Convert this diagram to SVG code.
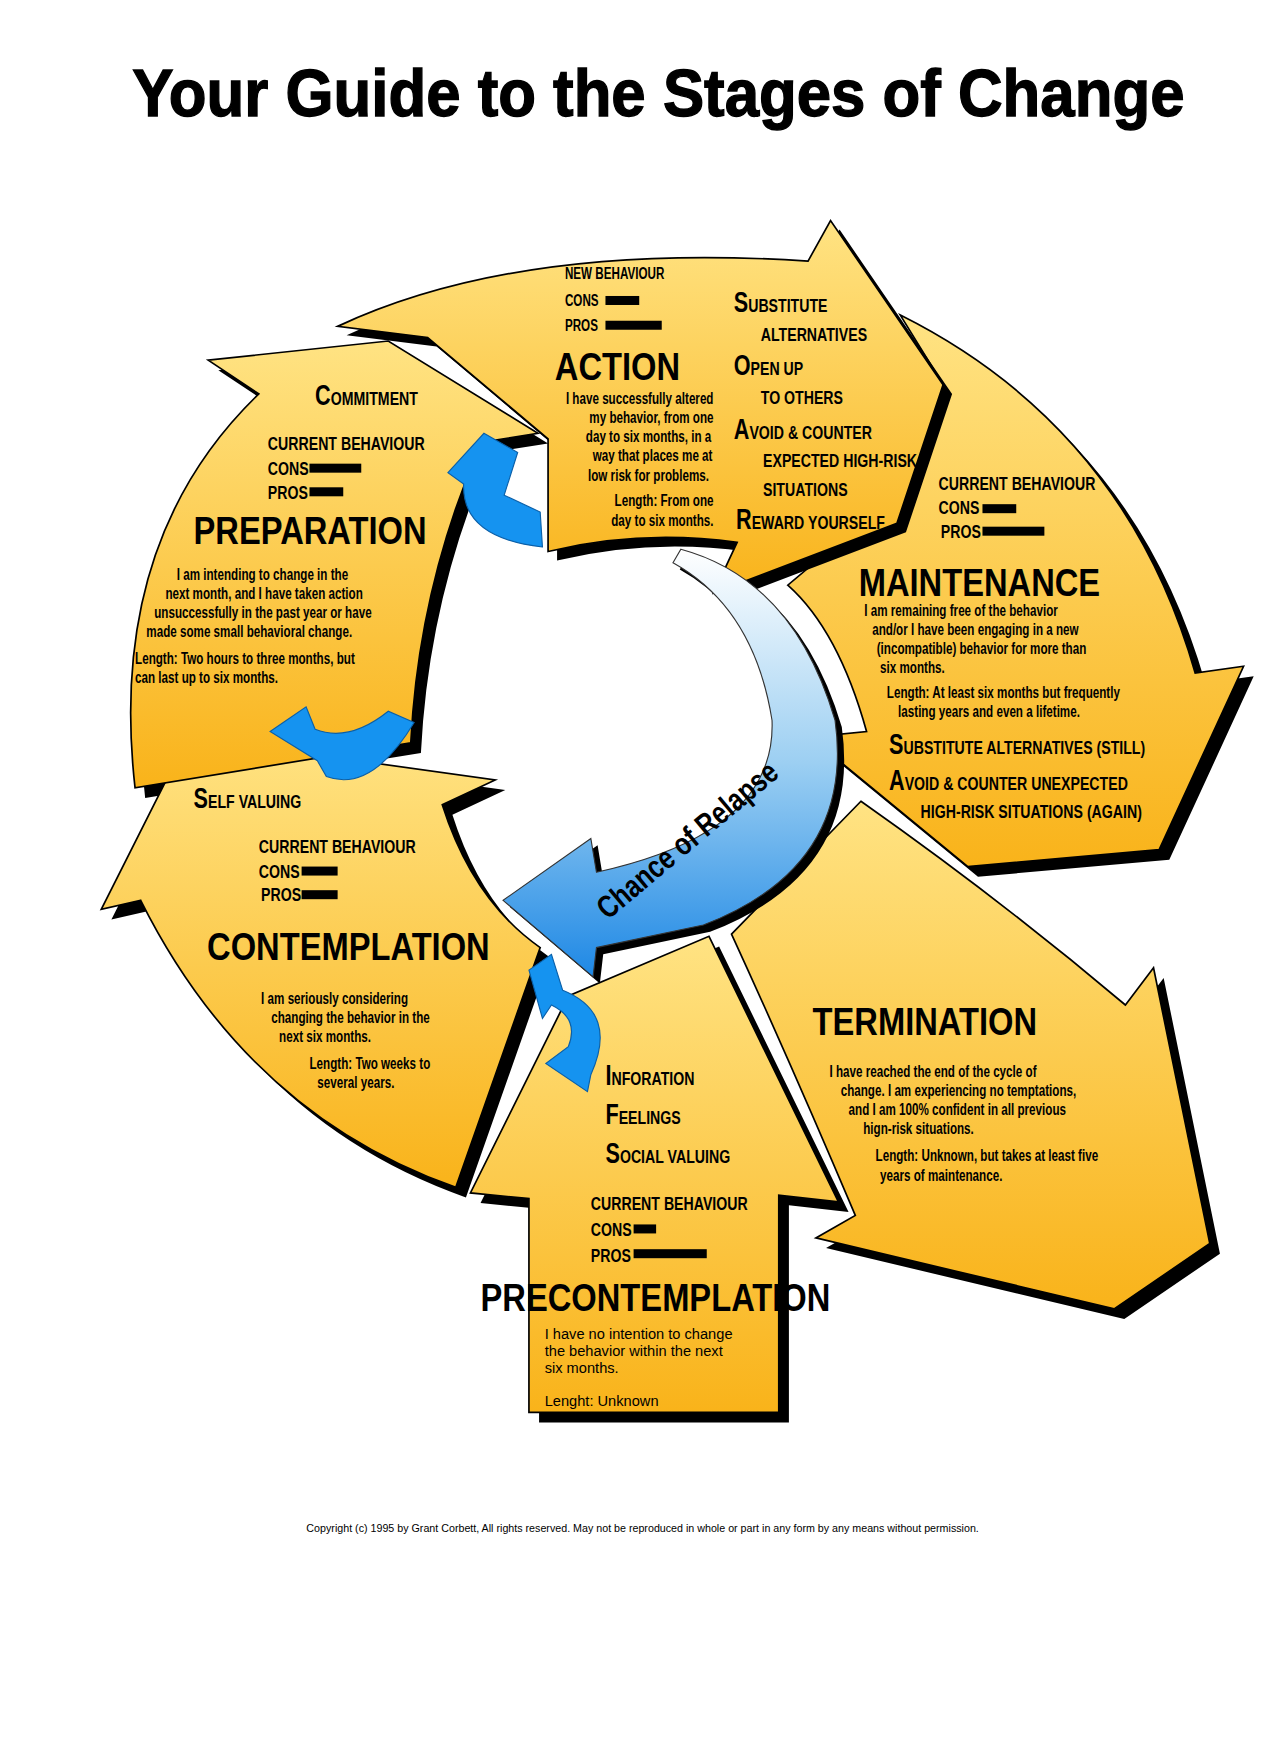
<svg xmlns="http://www.w3.org/2000/svg" width="1274" height="1755" viewBox="0 0 1274 1755">
<defs>
<linearGradient id="y" x1="0" y1="0" x2="0" y2="1"><stop offset="0" stop-color="#FFE383"/><stop offset="1" stop-color="#F9B31A"/></linearGradient>
<linearGradient id="b" x1="0" y1="0" x2="0" y2="1"><stop offset="0" stop-color="#FFFFFF"/><stop offset="0.5" stop-color="#9CCFF2"/><stop offset="1" stop-color="#1E88E5"/></linearGradient>
<style>
.sh{fill:#000}
.st{fill:url(#y);stroke:#000;stroke-width:1.5}
.bl{fill:#1593F0;stroke:#0a5fa8;stroke-width:1}
text{font-family:"Liberation Sans",Arial,sans-serif;fill:#000}
.t,.s,.h{transform-box:fill-box;transform-origin:0% 50%;transform:scaleX(0.74);font-weight:bold}
.h{transform:scaleX(0.83)}
.e{transform-origin:100% 50%}
.t{font-size:14px}
.h{font-size:35px}
.s{font-size:17px}
.c{font-size:26px;font-weight:900}
</style>
</defs>
<rect width="1274" height="1755" fill="#fff"/>
<g transform="scale(1.1254)">
<text x="585" y="103" text-anchor="middle" style="font-size:60px;font-weight:bold;stroke:#000;stroke-width:1.2" textLength="935" lengthAdjust="spacingAndGlyphs">Your Guide to the Stages of Change</text>

<g id="shadows" transform="translate(9,9)">
<path class="sh" d="M120,700 Q95,480 230,350 L185,320 L345,303 L478,385 L428,393 Q372,520 365,660 Z"/>
<path class="sh" d="M125,800 L90,808 L167,655 L440,693 L393,715 Q420,800 480,842 L405,1055 Q220,990 125,800 Z"/>
<path class="sh" d="M470,1255 L470,1065 L418,1060 L505,885 L630,832 L745,1068 L692,1062 L692,1255 Z"/>
<path class="sh" d="M650,830 L765,712 Q890,800 1000,893 L1025,860 L1075,1105 L990,1163 L725,1100 L760,1080 Q705,950 650,830 Z"/>
<path class="sh" d="M800,280 Q1000,380 1062,598 L1105,592 L1030,755 L860,770 L720,655 L770,650 Q745,560 700,520 L795,440 L840,345 Z"/>
</g>
<g id="maintenance"><path class="st" d="M800,280 Q1000,380 1062,598 L1105,592 L1030,755 L860,770 L720,655 L770,650 Q745,560 700,520 L795,440 L840,345 Z"/></g>
<g id="action"><path class="sh" transform="translate(8,8)" d="M300,290 Q460,215 718,232 L738,196 L838,342 L797,465 L634,527 L655,482 Q570,470 487,490 L487,390 L380,300 Z"/><path class="st" d="M300,290 Q460,215 718,232 L738,196 L838,342 L797,465 L634,527 L655,482 Q570,470 487,490 L487,390 L380,300 Z"/></g>
<g id="termination"><path class="st" d="M650,830 L765,712 Q890,800 1000,893 L1025,860 L1075,1105 L990,1163 L725,1100 L760,1080 Q705,950 650,830 Z"/></g>
<g id="precontemplation"><path class="st" d="M470,1255 L470,1065 L418,1060 L505,885 L630,832 L745,1068 L692,1062 L692,1255 Z"/></g>
<g id="contemplation"><path class="st" d="M125,800 L90,808 L167,655 L440,693 L393,715 Q420,800 480,842 L405,1055 Q220,990 125,800 Z"/></g>
<g id="preparation"><path class="st" d="M120,700 Q95,480 230,350 L185,320 L345,303 L478,385 L428,393 Q372,520 365,660 Z"/></g>

<g id="relapse">
<path d="M605,488 Q705,515 742,640 Q760,770 625,822 L530,842 L527,868 L447,800 L525,745 L530,775 Q690,740 686,640 Q670,540 598,500 Z" fill="#000" transform="translate(6,6)"/>
<path d="M605,488 Q705,515 742,640 Q760,770 625,822 L530,842 L527,868 L447,800 L525,745 L530,775 Q690,740 686,640 Q670,540 598,500 Z" fill="url(#b)" stroke="#333" stroke-width="1"/>
<text transform="translate(540,818) rotate(-40) scale(0.8,1)" style="font-size:28px;font-weight:bold">Chance of Relapse</text>
</g>

<g id="connectors">
<path class="bl" d="M430,385 L460,402 L448,440 L480,455 L482,486 Q410,478 412,430 L398,420 Z"/>
<path class="bl" d="M240,650 L272,628 L280,648 Q310,660 345,632 L368,642 Q330,705 290,690 L282,676 Z"/>
<path class="bl" d="M470,862 L490,848 L500,880 Q550,900 525,955 L522,970 L485,945 L505,930 Q515,905 490,893 L482,905 Z"/>
</g>

<g id="labels">
<text class="t" x="502" y="248">NEW BEHAVIOUR</text>
<text class="t" x="502" y="272">CONS</text><rect x="538" y="263" width="30" height="8"/>
<text class="t" x="502" y="294">PROS</text><rect x="538" y="285" width="50" height="8"/>
<text class="h" x="493" y="338">ACTION</text>
<text class="t e" x="634" y="359" text-anchor="end">I have successfully altered</text>
<text class="t e" x="634" y="376" text-anchor="end">my behavior, from one</text>
<text class="t e" x="632" y="393" text-anchor="end">day to six months, in a</text>
<text class="t e" x="633" y="410" text-anchor="end">way that places me at</text>
<text class="t e" x="630" y="427" text-anchor="end">low risk for problems.</text>
<text class="t e" x="634" y="450" text-anchor="end">Length: From one</text>
<text class="t e" x="634" y="467" text-anchor="end">day to six months.</text>
<text class="s" x="652" y="277"><tspan class="c">S</tspan>UBSTITUTE</text>
<text class="s" x="676" y="303">ALTERNATIVES</text>
<text class="s" x="652" y="333"><tspan class="c">O</tspan>PEN UP</text>
<text class="s" x="676" y="359">TO OTHERS</text>
<text class="s" x="652" y="390"><tspan class="c">A</tspan>VOID &amp; COUNTER</text>
<text class="s" x="678" y="415">EXPECTED HIGH-RISK</text>
<text class="s" x="678" y="441">SITUATIONS</text>
<text class="s" x="654" y="470"><tspan class="c">R</tspan>EWARD YOURSELF</text>

<text class="s" x="280" y="360"><tspan class="c">C</tspan>OMMITMENT</text>
<text class="s" x="238" y="400">CURRENT BEHAVIOUR</text>
<text class="s" x="238" y="422">CONS</text><rect x="275" y="412" width="46" height="8"/>
<text class="s" x="238" y="443">PROS</text><rect x="275" y="433" width="30" height="8"/>
<text class="h" x="172" y="483">PREPARATION</text>
<text class="t" x="157" y="515">I am intending to change in the</text>
<text class="t" x="147" y="532">next month, and I have taken action</text>
<text class="t" x="137" y="549">unsuccessfully in the past year or have</text>
<text class="t" x="130" y="566">made some small behavioral change.</text>
<text class="t" x="120" y="590">Length: Two hours to three months, but</text>
<text class="t" x="120" y="607">can last up to six months.</text>

<text class="s" x="834" y="435">CURRENT BEHAVIOUR</text>
<text class="s" x="834" y="457">CONS</text><rect x="873" y="448" width="30" height="8"/>
<text class="s" x="836" y="478">PROS</text><rect x="873" y="468" width="55" height="8"/>
<text class="h" x="763" y="530">MAINTENANCE</text>
<text class="t" x="768" y="547">I am remaining free of the behavior</text>
<text class="t" x="775" y="564">and/or I have been engaging in a new</text>
<text class="t" x="779" y="581">(incompatible) behavior for more than</text>
<text class="t" x="782" y="598">six months.</text>
<text class="t" x="788" y="620">Length: At least six months but frequently</text>
<text class="t" x="798" y="637">lasting years and even a lifetime.</text>
<text class="s" x="790" y="670"><tspan class="c">S</tspan>UBSTITUTE ALTERNATIVES  (STILL)</text>
<text class="s" x="790" y="702"><tspan class="c">A</tspan>VOID &amp; COUNTER UNEXPECTED</text>
<text class="s" x="818" y="727">HIGH-RISK SITUATIONS (AGAIN)</text>

<text class="s" x="172" y="718"><tspan class="c">S</tspan>ELF VALUING</text>
<text class="s" x="230" y="758">CURRENT BEHAVIOUR</text>
<text class="s" x="230" y="780">CONS</text><rect x="268" y="770" width="32" height="8"/>
<text class="s" x="232" y="801">PROS</text><rect x="268" y="791" width="32" height="8"/>
<text class="h" x="184" y="853">CONTEMPLATION</text>
<text class="t" x="232" y="892">I am seriously considering</text>
<text class="t" x="241" y="909">changing the behavior in the</text>
<text class="t" x="248" y="926">next six months.</text>
<text class="t" x="275" y="950">Length: Two weeks to</text>
<text class="t" x="282" y="967">several years.</text>

<text class="h" x="722" y="920">TERMINATION</text>
<text class="t" x="737" y="957">I have reached the end of the cycle of</text>
<text class="t" x="747" y="974">change. I am experiencing no temptations,</text>
<text class="t" x="754" y="991">and I am 100% confident in all previous</text>
<text class="t" x="767" y="1008">hign-risk situations.</text>
<text class="t" x="778" y="1032">Length: Unknown, but takes at least five</text>
<text class="t" x="782" y="1049">years of maintenance.</text>

<text class="s" x="538" y="964"><tspan class="c">I</tspan>NFORATION</text>
<text class="s" x="538" y="999"><tspan class="c">F</tspan>EELINGS</text>
<text class="s" x="538" y="1033"><tspan class="c">S</tspan>OCIAL VALUING</text>
<text class="s" x="525" y="1075">CURRENT BEHAVIOUR</text>
<text class="s" x="525" y="1098">CONS</text><rect x="563" y="1088" width="20" height="8"/>
<text class="s" x="525" y="1121">PROS</text><rect x="563" y="1110" width="65" height="8"/>
<text class="h" x="427" y="1165">PRECONTEMPLATION</text>
<text x="484" y="1190" style="font-size:13px">I have no intention to change</text>
<text x="484" y="1205" style="font-size:13px">the behavior within the next</text>
<text x="484" y="1220" style="font-size:13px">six months.</text>
<text x="484" y="1249" style="font-size:13px">Lenght: Unknown</text>

<text x="571" y="1361" text-anchor="middle" style="font-size:9.5px">Copyright  (c) 1995 by Grant Corbett, All rights reserved. May not be reproduced in whole or part in any form by any means without permission.</text>
</g>
</g>
</svg>
